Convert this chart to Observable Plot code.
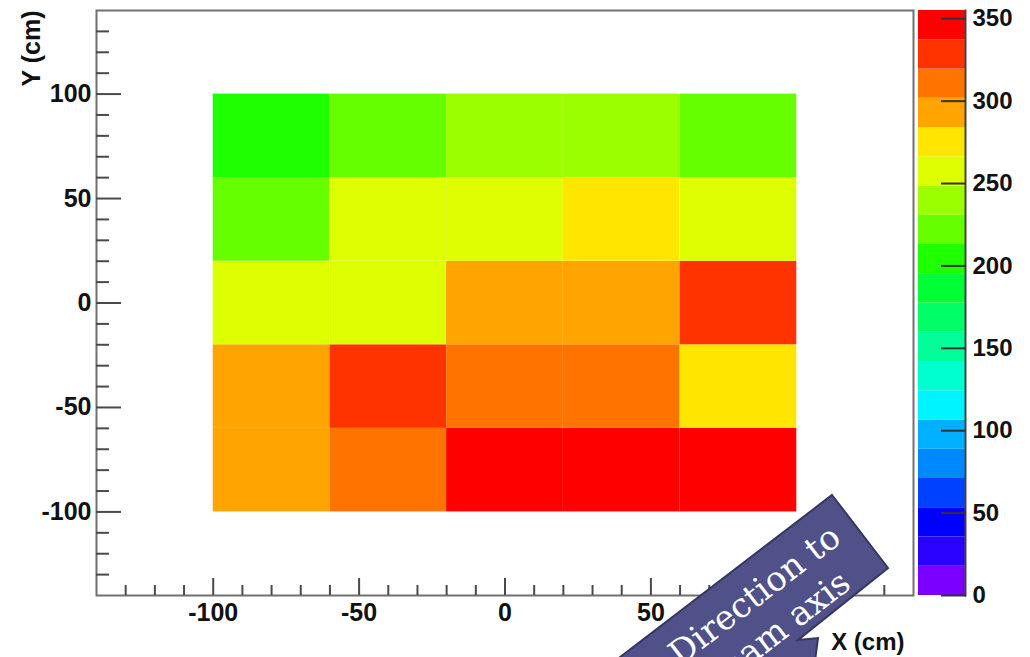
<!DOCTYPE html>
<html>
<head>
<meta charset="utf-8">
<script src="https://cdn.jsdelivr.net/npm/d3@7"></script>
<script src="https://cdn.jsdelivr.net/npm/@observablehq/plot@0.6"></script>
<style>
  html, body { margin: 0; padding: 0; background: #fff; }
  #wrap { position: relative; width: 1030px; height: 657px; overflow: hidden; background: #fff; }
  #wrap > svg, #wrap > div { position: absolute; top: 0; }
</style>
</head>
<body>
<div id="wrap"></div>
<script>
// Bin edges of the 2D histogram (cm)
const xEdges = [-100, -60, -20, 20, 60, 100];
const yEdges = [-100, -60, -20, 20, 60, 100];

// Bin contents, one row per Y bin, from Y = -100 upwards
const rowYm100 = [293, 308, 348, 352, 345];
const rowYm60  = [290, 330, 310, 312, 270];
const rowYm20  = [255, 262, 292, 294, 328];
const rowY20   = [220, 258, 256, 275, 260];
const rowY60   = [205, 222, 240, 238, 226];
const counts = [rowYm100, rowYm60, rowYm20, rowY20, rowY60];

// Colour palette: 20 contour levels between 0 and zMax
const zMax = 355;
const nLevels = 20;
const palette = [
  "#7a00ff", "#2a00ff", "#0000ff", "#0040ff", "#0088ff",
  "#00b0ff", "#00f4ff", "#00ffd0", "#00ff99", "#00ff66",
  "#00ff33", "#1eff00", "#66ff00", "#9cff00", "#ddff00",
  "#ffe600", "#ffa400", "#ff7400", "#ff3300", "#ff0000"
];

// Axis ticks
const xMajorTicks = [-100, -50, 0, 50, 100];
const yMajorTicks = [-100, -50, 0, 50, 100];
const minorTicks = [-130, -120, -110, -90, -80, -70, -60, -40, -30, -20, -10,
                    10, 20, 30, 40, 60, 70, 80, 90, 110, 120, 130];
const colorTicks = [0, 50, 100, 150, 200, 250, 300, 350];

const cells = counts.flatMap((row, j) => row.map((z, i) => ({
  x1: xEdges[i], x2: xEdges[i + 1], y1: yEdges[j], y2: yEdges[j + 1], z
})));
const thresholds = d3.range(1, nLevels).map(k => k * zMax / nLevels);
const levels = d3.range(nLevels).map(k => ({
  lo: k * zMax / nLevels, hi: (k + 1) * zMax / nLevels, mid: (k + 0.5) * zMax / nLevels
}));
const colorScale = {type: "threshold", domain: thresholds, range: palette};

const font = "'Liberation Sans', Arial, Helvetica, sans-serif";
const axisInk = "#4a4a4a";
const plain = d => String(d);   // ASCII hyphen for negative labels
const H = 657, mTop = 10, mBottom = 62;

const main = Plot.plot({
  width: 918, height: H,
  marginLeft: 96, marginRight: 5, marginTop: mTop, marginBottom: mBottom,
  style: {fontFamily: font, fontWeight: "bold", fontSize: "25px", background: "transparent", color: "#111"},
  x: {domain: [-140, 140]},
  y: {domain: [-140, 140]},
  color: colorScale,
  marks: [
    Plot.rect(cells, {x1: "x1", x2: "x2", y1: "y1", y2: "y2", fill: "z"}),
    Plot.frame({stroke: "#707070", strokeWidth: 2}),
    // inward major and minor ticks
    Plot.axisY(yMajorTicks, {anchor: "left", tickSize: -25, tickPadding: 30, stroke: axisInk, strokeWidth: 2,
      tickFormat: plain, fill: "#111", fontSize: 25, fontWeight: "bold", label: null}),
    Plot.axisY(minorTicks, {anchor: "left", tickSize: -13, stroke: axisInk, strokeWidth: 2, fill: "none", label: null}),
    Plot.axisX(xMajorTicks, {anchor: "bottom", tickSize: -17, tickPadding: 25, stroke: axisInk, strokeWidth: 2,
      tickFormat: plain, fill: "#111", fontSize: 25, fontWeight: "bold", label: null}),
    Plot.axisX(minorTicks, {anchor: "bottom", tickSize: -10, stroke: axisInk, strokeWidth: 2, fill: "none", label: null}),
    Plot.text(["Y (cm)"], {frameAnchor: "top-left", rotate: -90, textAnchor: "end", lineAnchor: "middle",
      dx: -65, dy: 0, fontSize: 25, fontWeight: "bold", fill: "#111"}),
    Plot.text(["X (cm)"], {frameAnchor: "bottom-right", textAnchor: "end", lineAnchor: "middle",
      dx: -9, dy: 47, fontSize: 24, fontWeight: "bold", fill: "#111"})
  ]
});
main.style.left = "0px";
document.getElementById("wrap").appendChild(main);

// Palette bar with its own value axis
const bar = Plot.plot({
  width: 112, height: H,
  marginLeft: 0, marginRight: 65, marginTop: mTop, marginBottom: mBottom,
  style: {fontFamily: font, fontWeight: "bold", fontSize: "24px", background: "transparent", color: "#111"},
  y: {domain: [0, zMax]},
  color: colorScale,
  marks: [
    Plot.rect(levels, {y1: "lo", y2: "hi", fill: "mid"}),
    Plot.frame({anchor: "right", stroke: "#444", strokeWidth: 2}),
    Plot.axisY(colorTicks, {anchor: "right", tickSize: -25, tickPadding: 32, stroke: "#333", strokeWidth: 2,
      tickFormat: plain, fill: "#111", fontSize: 24, fontWeight: "bold", label: null})
  ]
});
bar.style.left = "918px";
document.getElementById("wrap").appendChild(bar);

// Callout arrow with its caption
const ns = "http://www.w3.org/2000/svg";
const note = d3.create("svg")
  .attr("xmlns", ns)
  .attr("width", 1030).attr("height", H)
  .style("left", "0px").style("pointer-events", "none");
note.append("polygon")
  .attr("points", "832,495 888,568 798,640 818,638 810,700 564,700")
  .attr("fill", "#4f5188").attr("stroke", "#35375f").attr("stroke-width", 2);
const cap = note.append("g")
  .attr("transform", "translate(860,531) rotate(-37.5)")
  .attr("fill", "#ffffff")
  .attr("font-family", "'DejaVu Serif', 'Liberation Serif', Georgia, serif")
  .attr("font-size", 34)
  .attr("text-anchor", "end");
cap.append("text").attr("x", -20).attr("y", -2).text("Direction to");
cap.append("text").attr("x", -40).attr("y", 40).text("beam axis");
document.getElementById("wrap").appendChild(note.node());
</script>
</body>
</html>
